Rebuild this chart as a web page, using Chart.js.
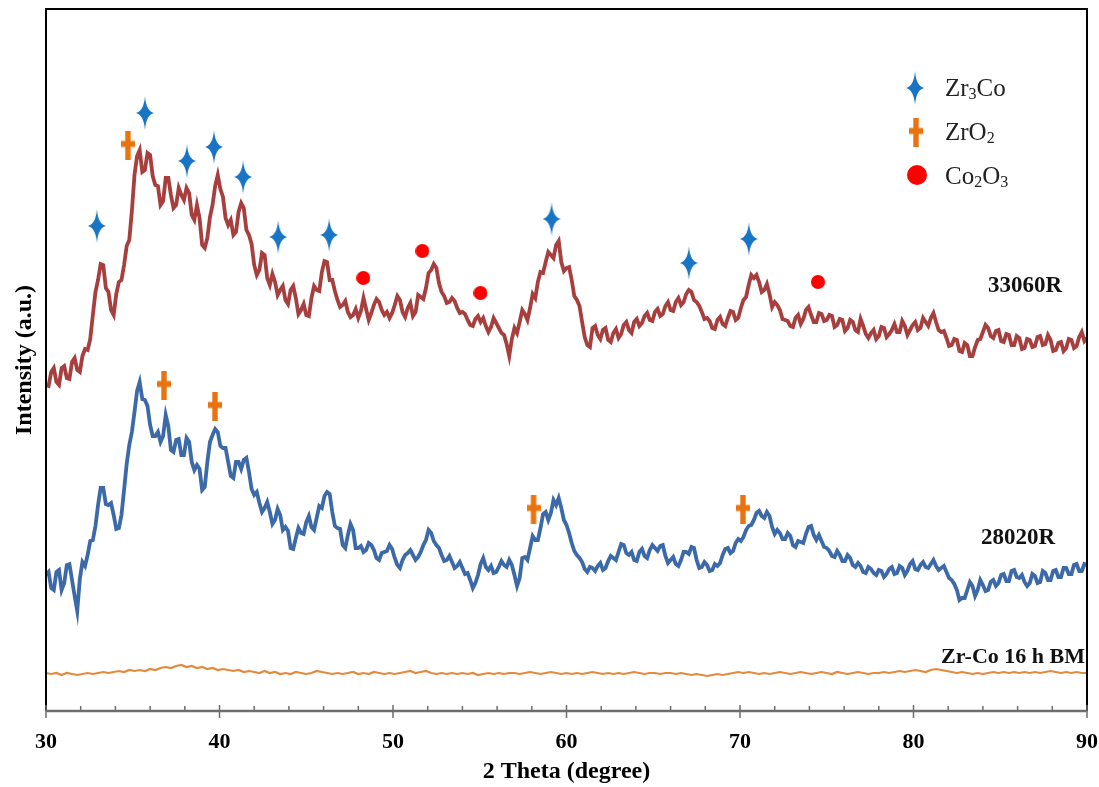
<!DOCTYPE html>
<html>
<head>
<meta charset="utf-8">
<script src="https://cdn.jsdelivr.net/npm/chart.js@4.4.1/dist/chart.umd.min.js"></script>
<style>
  html, body { margin: 0; padding: 0; background: #fff; }
</style>
</head>
<body>
<canvas id="xrd" width="1099" height="787"></canvas>
<script>
// 2-theta grid of the scans (degrees)
const thetaStart = 30;
const thetaStep = 0.15;   // 33060R and 28020R
const bmStep = 0.3;       // Zr-Co 16 h BM

// intensities (a.u.), one value per grid step
const s33060R = [
  326,325,339,343,329,326,343,345,333,332,
  349,353,341,339,355,362,361,372,396,419,
  431,447,446,423,419,401,396,417,429,431,
  446,465,471,500,536,555,561,539,541,558,
  556,535,526,525,506,510,533,533,516,503,
  506,523,516,511,523,518,496,491,506,493,
  466,463,473,494,506,525,536,522,514,493,
  486,491,476,479,499,508,503,481,476,467,
  446,436,441,458,456,433,426,437,429,416,
  421,425,411,407,421,425,413,397,401,407,
  396,395,413,425,421,420,439,450,449,431,
  431,420,411,404,406,410,399,394,396,402,
  393,400,413,402,391,398,406,412,409,401,
  396,399,393,398,406,415,411,399,394,403,
  408,395,399,416,414,412,423,438,441,447,
  443,428,419,415,408,409,413,410,403,398,
  399,397,391,386,385,392,395,389,393,385,
  379,384,393,388,383,378,376,367,355,372,
  383,378,389,401,397,391,403,417,413,429,
  439,438,449,459,456,453,466,470,449,440,
  443,444,431,415,411,405,389,374,366,364,
  383,385,376,372,381,383,371,369,378,382,
  373,377,386,389,381,378,389,392,385,388,
  395,398,391,390,399,402,395,397,405,409,
  401,400,409,413,406,409,417,421,419,411,
  409,405,399,392,393,390,383,382,391,394,
  387,385,393,400,399,391,393,403,411,414,
  426,436,433,436,429,419,421,427,417,404,
  409,406,401,392,391,390,385,384,393,396,
  387,392,401,404,396,389,389,398,397,390,
  391,396,395,384,386,392,391,380,383,391,
  389,381,379,392,385,377,373,378,381,372,
  375,384,383,374,377,381,387,379,379,390,
  385,376,381,386,389,381,383,393,389,385,
  393,398,389,381,379,380,373,365,366,372,
  371,360,359,368,366,355,355,364,371,372,
  379,386,383,375,373,380,381,370,369,377,
  376,366,366,375,373,362,363,372,371,364,
  365,374,375,366,367,376,371,360,361,368,
  369,360,363,372,371,363,365,374,379,370,
  373
];
const s28020R = [
  136,139,123,121,139,141,121,128,146,147,
  131,115,100,132,149,145,156,170,171,185,
  206,223,223,207,206,208,196,182,183,196,
  221,247,266,279,299,320,329,312,311,305,
  286,275,275,279,269,275,296,285,261,259,
  271,272,256,256,273,269,249,241,246,242,
  221,224,249,269,276,282,279,265,263,263,
  249,235,233,249,249,242,251,253,239,222,
  216,219,208,199,203,209,199,187,191,202,
  196,181,184,180,163,162,173,183,178,177,
  189,195,184,181,193,205,203,215,219,217,
  199,185,183,182,166,163,176,187,181,163,
  163,165,159,161,168,166,161,153,151,158,
  159,160,166,162,153,146,143,151,156,158,
  161,156,151,154,159,166,171,181,178,170,
  166,163,156,150,151,155,149,143,145,149,
  143,137,138,131,123,128,136,147,153,144,
  141,145,138,139,144,150,146,144,151,146,
  136,125,133,153,154,151,163,175,171,171,
  183,197,199,191,198,211,206,213,203,191,
  186,178,168,160,156,153,149,142,139,144,
  143,140,145,148,141,143,150,155,153,151,
  159,167,166,158,156,159,151,150,159,162,
  155,153,161,166,163,160,165,166,155,148,
  151,154,147,145,151,159,159,157,164,163,
  151,143,144,149,146,140,141,147,145,148,
  156,162,163,158,160,168,172,170,174,181,
  185,186,191,198,200,195,193,199,195,184,
  177,181,178,172,172,178,175,166,164,170,
  169,168,177,184,185,176,171,176,170,164,
  163,160,155,154,160,156,150,150,156,153,
  146,144,148,145,139,138,144,142,138,136,
  141,140,134,137,142,144,137,138,145,143,
  136,140,147,150,142,141,146,149,144,143,
  147,151,145,141,143,145,139,133,131,127,
  121,111,113,113,121,129,125,115,121,131,
  126,120,121,129,131,125,128,136,137,130,
  130,140,141,134,133,136,129,125,128,137,
  135,128,129,140,138,131,131,140,141,134,
  134,143,143,137,137,146,147,140,140,147,
  146
];
const sBM16h = [
  38,37,38,36,38,37,36,37,38,37,
  38,39,38,39,40,39,41,40,41,40,
  42,41,43,44,43,45,46,44,45,43,
  44,42,43,41,42,41,40,41,39,40,
  39,38,40,38,39,37,38,37,39,38,
  37,38,40,39,38,37,38,37,38,39,
  37,38,37,39,38,37,38,37,38,39,
  40,38,39,40,38,37,38,37,38,37,
  38,37,38,36,37,38,37,38,37,38,
  38,37,38,39,38,37,38,39,38,37,
  38,37,38,37,38,39,38,37,38,37,
  38,37,38,39,38,37,38,38,37,38,
  38,37,38,37,36,37,36,35,36,37,
  36,37,38,39,38,39,38,37,38,37,
  38,39,38,37,38,39,38,37,38,39,
  38,37,39,38,37,38,39,38,37,38,
  38,39,38,39,40,39,40,41,40,39,
  41,42,41,40,39,38,39,38,37,38,
  37,38,39,38,39,38,39,38,39,38,
  39,38,39,40,39,38,39,38,39,38,
  38
];

// phase markers [2theta, intensity]
const zr3coPeaks = [[32.93,485],[35.70,598],[38.12,550],[39.68,564],[41.36,534],[43.38,474],[46.32,476],[59.14,492],[67.05,448],[70.51,472]];
const zro2Peaks = [[34.72,566],[36.80,326],[39.74,305],[58.10,202],[70.17,202]];
const co2o3Peaks = [[48.29,433],[51.69,460],[55.04,418],[74.49,429]];

const minorTicks = [32,34,36,38,42,44,46,48,52,54,56,58,62,64,66,68,72,74,76,78,82,84,86,88];
const majorTicks = [30,40,50,60,70,80,90];

const toPoints = (arr, step) => arr.map((v, i) => ({ x: +(thetaStart + i * step).toFixed(2), y: v }));
const toMarks = arr => arr.map(p => ({ x: p[0], y: p[1] }));

function makeMark(kind, size) {
  const c = document.createElement('canvas');
  const g = c.getContext('2d');
  if (kind === 'star') {
    c.width = 18; c.height = 34;
    g.fillStyle = '#1874c4';
    g.beginPath();
    g.moveTo(9, 0);
    g.quadraticCurveTo(10.2, 15.2, 18, 17);
    g.quadraticCurveTo(10.2, 18.8, 9, 34);
    g.quadraticCurveTo(7.8, 18.8, 0, 17);
    g.quadraticCurveTo(7.8, 15.2, 9, 0);
    g.fill();
  } else if (kind === 'cross') {
    c.width = 14; c.height = 29;
    g.fillStyle = '#e8730f';
    g.fillRect(4.3, 0, 5.4, 29);
    g.fillRect(0, 10.5, 14, 6);
  } else {
    c.width = size; c.height = size;
    g.fillStyle = '#ff0000';
    g.beginPath();
    g.arc(size / 2, size / 2, size / 2, 0, Math.PI * 2);
    g.fill();
  }
  return c;
}
const starImg = makeMark('star');
const crossImg = makeMark('cross');
const dotImg = makeMark('dot', 14);
const dotLegendImg = makeMark('dot', 20);

const serif = '"Liberation Serif", "Times New Roman", serif';

function drawChem(ctx, parts, x, y) {
  let cx = x;
  parts.forEach(p => {
    const sub = /^\d$/.test(p);
    ctx.font = (sub ? '16px ' : '25px ') + serif;
    ctx.fillText(p, cx, sub ? y + 6 : y);
    cx += ctx.measureText(p).width;
  });
}

const decor = {
  id: 'decor',
  afterDatasetsDraw(chart) {
    const { ctx, chartArea: a, scales: { x } } = chart;
    ctx.save();
    ctx.strokeStyle = '#000';
    ctx.lineWidth = 2;
    ctx.beginPath();
    ctx.moveTo(a.left, a.bottom);
    ctx.lineTo(a.left, a.top);
    ctx.lineTo(a.right, a.top);
    ctx.lineTo(a.right, a.bottom);
    ctx.stroke();

    ctx.strokeStyle = '#6e6e6e';
    ctx.lineWidth = 2.5;
    ctx.beginPath();
    ctx.moveTo(a.left, a.bottom);
    ctx.lineTo(a.right, a.bottom);
    ctx.stroke();
    ctx.lineWidth = 1.5;
    ctx.beginPath();
    minorTicks.forEach(t => {
      const px = x.getPixelForValue(t);
      ctx.moveTo(px, a.bottom - 5);
      ctx.lineTo(px, a.bottom);
    });
    majorTicks.forEach(t => {
      const px = x.getPixelForValue(t);
      ctx.moveTo(px, a.bottom - 6);
      ctx.lineTo(px, a.bottom + 7);
    });
    ctx.stroke();

    // sample names
    ctx.fillStyle = '#111';
    ctx.textBaseline = 'middle';
    ctx.textAlign = 'right';
    ctx.font = 'bold 23px ' + serif;
    ctx.fillText('33060R', 1062, 286);
    ctx.fillText('28020R', 1055, 538);
    ctx.font = 'bold 22px ' + serif;
    ctx.fillText('Zr-Co 16 h BM', 1085, 657);

    // legend
    ctx.textAlign = 'left';
    ctx.drawImage(starImg, 915 - 9, 88 - 17);
    ctx.drawImage(crossImg, 916 - 7, 132 - 14.5);
    ctx.drawImage(dotLegendImg, 917 - 10, 175 - 10);
    ctx.fillStyle = '#222';
    drawChem(ctx, ['Zr', '3', 'Co'], 945, 89);
    drawChem(ctx, ['Zr', 'O', '2'], 945, 133);
    drawChem(ctx, ['Co', '2', 'O', '3'], 945, 177);
    ctx.restore();
  }
};

new Chart(document.getElementById('xrd'), {
  type: 'line',
  data: {
    datasets: [
      { label: '33060R', data: toPoints(s33060R, thetaStep), borderColor: '#a63f3d', borderWidth: 3.8, pointRadius: 0, tension: 0 },
      { label: '28020R', data: toPoints(s28020R, thetaStep), borderColor: '#3c69a8', borderWidth: 3.8, pointRadius: 0, tension: 0 },
      { label: 'Zr-Co 16 h BM', data: toPoints(sBM16h, bmStep), borderColor: '#e38b3d', borderWidth: 2.2, pointRadius: 0, tension: 0 },
      { label: 'Zr3Co', type: 'scatter', data: toMarks(zr3coPeaks), pointStyle: starImg, showLine: false },
      { label: 'ZrO2', type: 'scatter', data: toMarks(zro2Peaks), pointStyle: crossImg, showLine: false },
      { label: 'Co2O3', type: 'scatter', data: toMarks(co2o3Peaks), pointStyle: dotImg, showLine: false }
    ]
  },
  options: {
    responsive: false,
    animation: false,
    events: [],
    devicePixelRatio: 1,
    layout: { padding: { top: 9, right: 12, left: 0, bottom: 0 } },
    scales: {
      x: {
        type: 'linear',
        min: 30,
        max: 90,
        afterFit: s => { s.height = 76; s.paddingLeft = 0; s.paddingRight = 0; },
        ticks: { stepSize: 10, padding: 18, color: '#000', font: { family: serif, size: 22, weight: 'bold' } },
        grid: { display: false, drawTicks: false },
        border: { display: false },
        title: { display: true, text: '2 Theta (degree)', color: '#000', padding: { top: 0, bottom: 1 }, font: { family: serif, size: 24, weight: 'bold' } }
      },
      y: {
        min: 0,
        max: 702,
        afterFit: s => { s.width = 46; },
        ticks: { display: false },
        grid: { display: false, drawTicks: false },
        border: { display: false },
        title: { display: true, text: 'Intensity (a.u.)', color: '#000', padding: { top: 10, bottom: 0 }, font: { family: serif, size: 24, weight: 'bold' } }
      }
    },
    plugins: {
      legend: { display: false },
      tooltip: { enabled: false }
    }
  },
  plugins: [decor]
});
</script>
</body>
</html>
